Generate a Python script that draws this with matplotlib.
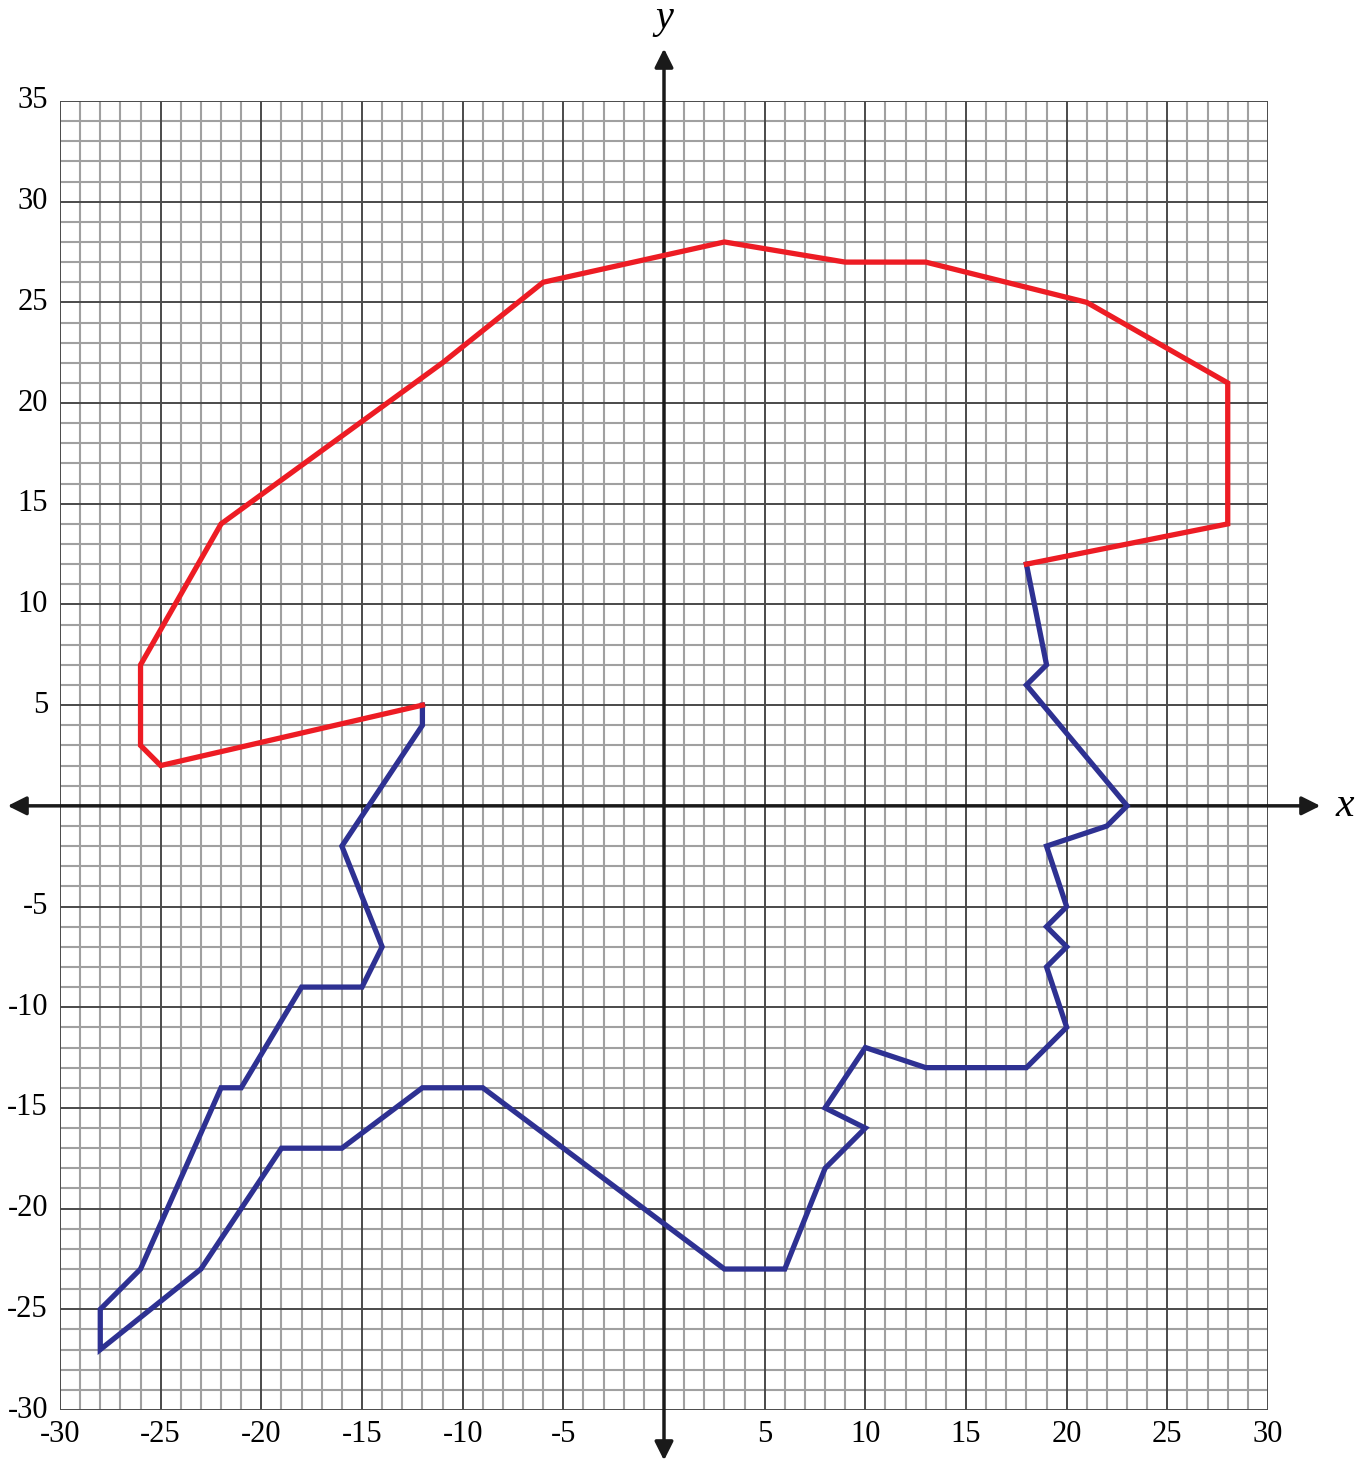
import matplotlib
matplotlib.use("Agg")
import matplotlib.pyplot as plt

red_x = [-12, -25, -26, -26, -22, -11, -6, 3, 9, 13, 21, 28, 28, 18]
red_y = [5, 2, 3, 7, 14, 22, 26, 28, 27, 27, 25, 21, 14, 12]

blue_x = [18, 19, 18, 23, 22, 19, 20, 19, 20, 19, 20, 18, 13, 10, 8, 10, 8, 6, 3,
          -9, -12, -16, -19, -23, -28, -28, -26, -22, -21, -18, -15, -14, -16, -12, -12]
blue_y = [12, 7, 6, 0, -1, -2, -5, -6, -7, -8, -11, -13, -13, -12, -15, -16, -18, -23, -23,
          -14, -14, -17, -17, -23, -27, -25, -23, -14, -14, -9, -9, -7, -2, 4, 5]

x_ticks = [-30, -25, -20, -15, -10, -5, 5, 10, 15, 20, 25, 30]
y_ticks = [35, 30, 25, 20, 15, 10, 5, -5, -10, -15, -20, -25, -30]

W, H = 1372, 1464
fig = plt.figure(figsize=(W / 100, H / 100), dpi=100)
L, R, T, B = 60, 1268, 101, 1410
ax = fig.add_axes([L / W, 1 - B / H, (R - L) / W, (B - T) / H])
ax.set_xlim(-30, 30)
ax.set_ylim(-30, 35)

# grid
for v in range(-30, 31):
    if v % 5:
        ax.axvline(v, color="#a0a0a0", lw=1.5, zorder=1)
for v in range(-30, 36):
    if v % 5:
        ax.axhline(v, color="#a0a0a0", lw=1.5, zorder=1)
for v in range(-30, 31, 5):
    ax.axvline(v, color="#4a4a4a", lw=1.4, zorder=2)
for v in range(-30, 36, 5):
    ax.axhline(v, color="#4a4a4a", lw=1.4, zorder=2)

for s in ax.spines.values():
    s.set_visible(False)
ax.set_xticks([])
ax.set_yticks([])

# axes with arrows
ax.annotate("", xy=(32.6, 0), xytext=(-32.6, 0),
            arrowprops=dict(arrowstyle="<|-|>", color="#1a1a1a", lw=2.5,
                            mutation_scale=28, shrinkA=0, shrinkB=0),
            annotation_clip=False, zorder=3)
ax.annotate("", xy=(0, 37.6), xytext=(0, -32.5),
            arrowprops=dict(arrowstyle="<|-|>", color="#1a1a1a", lw=2.5,
                            mutation_scale=28, shrinkA=0, shrinkB=0),
            annotation_clip=False, zorder=3)

ax.plot(red_x, red_y, color="#ED1C24", lw=3.8, solid_joinstyle="miter", zorder=5)
ax.plot(blue_x, blue_y, color="#2E3192", lw=3.8, solid_joinstyle="miter", zorder=4)

font = dict(family="Liberation Serif", fontsize=22)
for t in x_ticks:
    ax.text(t, -30.5, str(t), ha="center", va="top", **font)
for t in y_ticks:
    ax.text(-30.6, t, str(t), ha="right", va="center", **font)

ax.text(33.8, 0, "x", ha="center", va="center", family="Liberation Serif",
        style="italic", fontsize=30)
ax.text(0, 39.1, "y", ha="center", va="center", family="Liberation Serif",
        style="italic", fontsize=29)

fig.savefig("out.png", dpi=100)
